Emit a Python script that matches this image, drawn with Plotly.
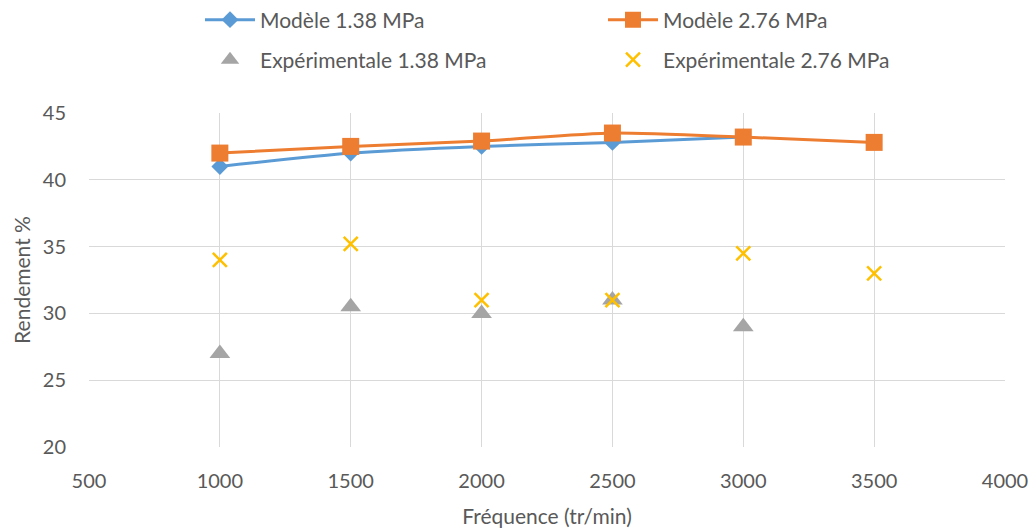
import plotly.graph_objects as go

freq_model1 = [1000, 1500, 2000, 2500, 3000]
model_138 = [41.0, 42.0, 42.5, 42.8, 43.2]
freq_model2 = [1000, 1500, 2000, 2500, 3000, 3500]
model_276 = [42.0, 42.5, 42.9, 43.5, 43.2, 42.8]
freq_exp1 = [1000, 1500, 2000, 2500, 3000]
exp_138 = [27.0, 30.5, 30.0, 31.0, 29.0]
freq_exp2 = [1000, 1500, 2000, 2500, 3000, 3500]
exp_276 = [34.0, 35.2, 31.0, 31.0, 34.5, 33.0]

font_fam = "Lato, 'Open Sans', sans-serif"
txt = "#595959"

fig = go.Figure()
fig.add_trace(go.Scatter(x=freq_model1, y=model_138, name="Modèle 1.38 MPa", mode="lines+markers",
                         line=dict(color="#5B9BD5", width=3, shape="spline", smoothing=0.6),
                         marker=dict(symbol="diamond", size=13, color="#5B9BD5"), legend="legend"))
fig.add_trace(go.Scatter(x=freq_model2, y=model_276, name="Modèle 2.76 MPa", mode="lines+markers",
                         line=dict(color="#ED7D31", width=3, shape="spline", smoothing=0.6),
                         marker=dict(symbol="square", size=17, color="#ED7D31"), legend="legend2"))
fig.add_trace(go.Scatter(x=freq_exp1, y=exp_138, name="Expérimentale 1.38 MPa", mode="markers",
                         marker=dict(symbol="triangle-up", size=18, color="#A5A5A5"), legend="legend3"))
fig.add_trace(go.Scatter(x=freq_exp2, y=exp_276, name="Expérimentale 2.76 MPa", mode="markers",
                         marker=dict(symbol="x-thin", size=14, color="#FFC000",
                                     line=dict(color="#FFC000", width=2.5)), legend="legend4"))

L, R, T, B = 89, 29, 113, 81
W, H = 1034, 528
pw, ph = W - L - R, H - T - B


def px_x(p):
    return (p - L) / pw


def px_y(p):
    return (H - B - p) / ph


leg_common = dict(orientation="h", xanchor="left", yanchor="middle", itemwidth=50,
                  font=dict(size=21, color=txt, family=font_fam), bgcolor="rgba(0,0,0,0)")

fig.update_layout(
    width=W, height=H,
    margin=dict(l=L, r=R, t=T, b=B, autoexpand=False),
    paper_bgcolor="white", plot_bgcolor="white",
    font=dict(family=font_fam, size=20, color=txt),
    showlegend=True,
    legend=dict(x=px_x(200), y=px_y(20), **leg_common),
    legend2=dict(x=px_x(603), y=px_y(20), **leg_common),
    legend3=dict(x=px_x(200), y=px_y(60), **leg_common),
    legend4=dict(x=px_x(603), y=px_y(60), **leg_common),
)
fig.update_xaxes(range=[500, 4000], dtick=500, tick0=500, showgrid=True, gridcolor="#D9D9D9",
                 gridwidth=1, zeroline=False, showline=False, ticks="", ticklabelstandoff=20,
                 automargin=False,
                 title=dict(text="Fréquence (tr/min)", font=dict(size=21, color=txt), standoff=18),
                 tickfont=dict(size=20, color=txt))
fig.update_yaxes(range=[20, 45], dtick=5, showgrid=True, gridcolor="#D9D9D9", gridwidth=1,
                 zeroline=False, showline=False, ticks="", ticklabelstandoff=22,
                 automargin=False,
                 title=dict(text="Rendement %", font=dict(size=21, color=txt), standoff=6),
                 tickfont=dict(size=20, color=txt))

fig.write_html("out.html", config={"displayModeBar": False},
               post_script="document.body.style.margin='0px';document.body.style.overflow='hidden';")
